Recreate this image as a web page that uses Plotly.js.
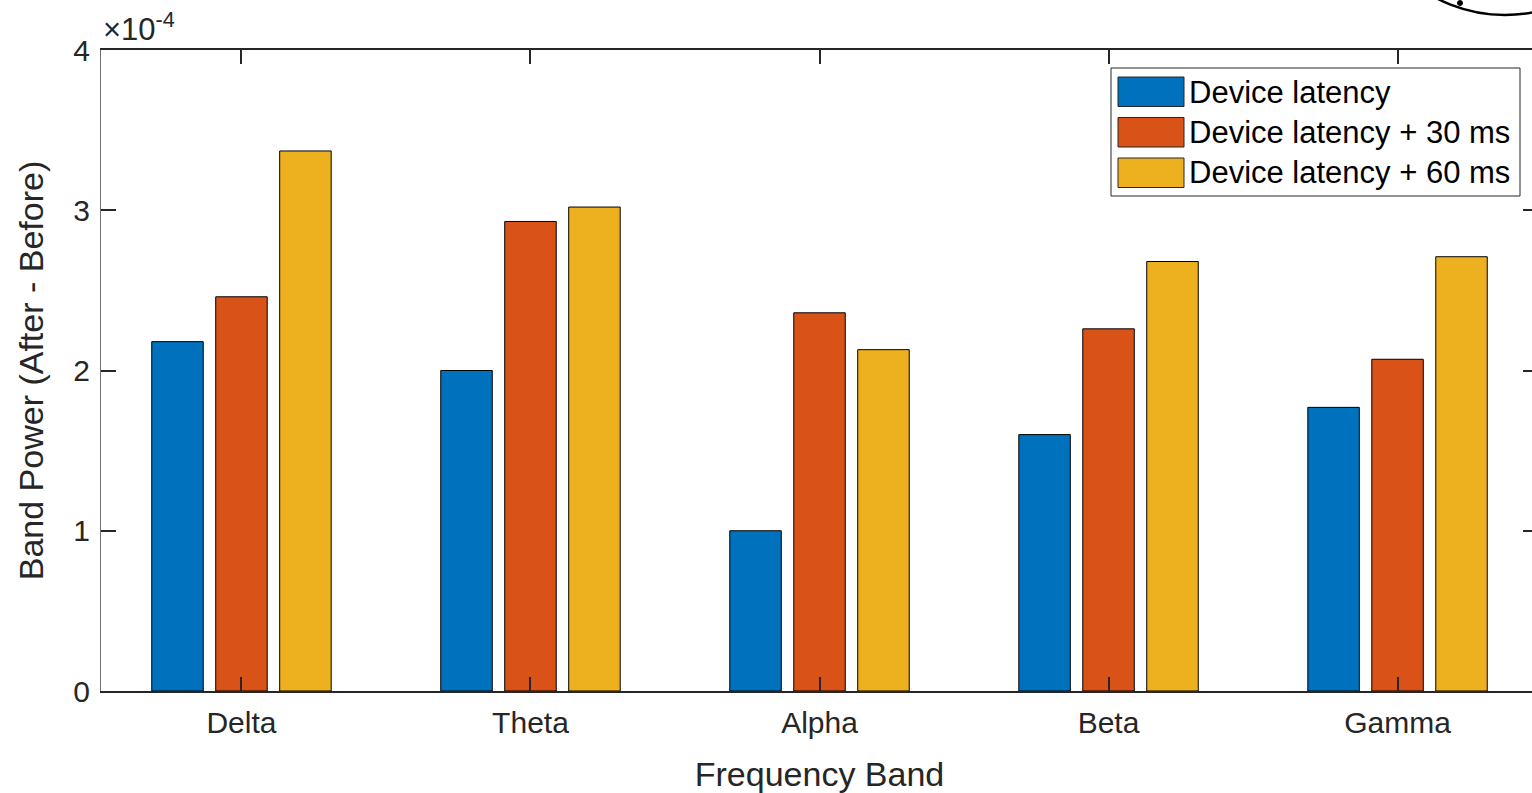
<!DOCTYPE html>
<html>
<head>
<meta charset="utf-8">
<script src="https://cdn.plot.ly/plotly-3.0.1.min.js"></script>
<style>
html,body{margin:0;padding:0;overflow:hidden;background:#fff;}
#chart{width:1545px;height:793px;}
</style>
</head>
<body>
<div id="chart"></div>
<script>
// Frequency bands (x categories)
const bands = ['Delta', 'Theta', 'Alpha', 'Beta', 'Gamma'];
// Series names
const seriesNames = ['Device latency', 'Device latency + 30 ms', 'Device latency + 60 ms'];
// Band power (After - Before), in units of 1e-4
const deviceLatency   = [2.18, 2.00, 1.00, 1.60, 1.77];
const latencyPlus30   = [2.46, 2.93, 2.36, 2.26, 2.07];
const latencyPlus60   = [3.37, 3.02, 2.13, 2.68, 2.71];
const yTicks = [0, 1, 2, 3, 4];
const exponentLabel = '×10<sup>-4</sup>';

const colors = ['#0072BD', '#D95319', '#EDB120'];
const seriesValues = [deviceLatency, latencyPlus30, latencyPlus60];

const W = 1545, H = 793;
const mL = 101, mR = 7, mT = 50, mB = 102;
const pw = W - mL - mR, ph = H - mT - mB;
const px = x => (x - mL) / pw;
const py = y => (H - mB - y) / ph;

const font = 'Liberation Sans, Arial, Helvetica, sans-serif';

const traces = seriesValues.map((vals, i) => ({
  type: 'bar',
  x: bands,
  y: vals,
  name: seriesNames[i],
  marker: {color: colors[i], line: {color: '#000000', width: 1}},
  showlegend: false,
  hoverinfo: 'x+y+name'
}));

// custom legend (MATLAB-style large swatches)
const shapes = [];
const annotations = [];
shapes.push({type: 'rect', xref: 'paper', yref: 'paper',
  x0: px(1111), x1: px(1520), y0: py(196), y1: py(68),
  line: {color: '#262626', width: 1}, fillcolor: '#ffffff', layer: 'above'});
const rowTop = [77, 117.5, 158];
seriesNames.forEach((nm, i) => {
  shapes.push({type: 'rect', xref: 'paper', yref: 'paper',
    x0: px(1118), x1: px(1184), y0: py(rowTop[i] + 29.5), y1: py(rowTop[i]),
    line: {color: '#262626', width: 1}, fillcolor: colors[i], layer: 'above'});
  annotations.push({xref: 'paper', yref: 'paper', x: px(1187), y: py(rowTop[i] + 15),
    xanchor: 'left', yanchor: 'middle', showarrow: false, text: nm,
    font: {family: font, size: 31, color: '#000000'}});
});

// exponent label
annotations.push({xref: 'paper', yref: 'paper', x: px(101), y: py(49),
  xanchor: 'left', yanchor: 'bottom', showarrow: false, text: exponentLabel,
  font: {family: font, size: 31, color: '#262626'}});

// partially visible decoration at the top right corner
shapes.push({type: 'circle', xref: 'paper', yref: 'paper',
  x0: px(1357), x1: px(1653), y0: py(15), y1: py(-281),
  line: {color: '#000000', width: 2.5}, fillcolor: 'rgba(0,0,0,0)', layer: 'above'});
shapes.push({type: 'circle', xref: 'paper', yref: 'paper',
  x0: px(1457.5), x1: px(1462.5), y0: py(5.5), y1: py(0.5),
  line: {color: '#000000', width: 1}, fillcolor: '#000000', layer: 'above'});

const layout = {
  width: W, height: H,
  margin: {l: mL, r: mR, t: mT, b: mB, pad: 0},
  paper_bgcolor: '#ffffff', plot_bgcolor: '#ffffff',
  barmode: 'group', bargap: 0.336, bargroupgap: 0.195,
  font: {family: font, color: '#262626', size: 30},
  xaxis: {
    type: 'category', range: [-0.486, 4.486],
    showline: true, linecolor: '#262626', linewidth: 2, mirror: 'ticks',
    ticks: 'inside', ticklen: 14, tickwidth: 2, tickcolor: '#262626',
    showgrid: false, zeroline: false,
    tickfont: {family: font, size: 30, color: '#262626'},
    ticklabelstandoff: 4,
    title: {text: 'Frequency Band', font: {family: font, size: 34, color: '#262626'}, standoff: 25}
  },
  yaxis: {
    range: [0, 4], tickvals: yTicks, ticktext: yTicks.map(String),
    showline: true, linecolor: '#707070', linewidth: 1, mirror: 'ticks',
    ticks: 'inside', ticklen: 15, tickwidth: 2, tickcolor: '#262626',
    showgrid: false, zeroline: false,
    tickfont: {family: font, size: 30, color: '#262626'},
    ticklabelstandoff: 4,
    title: {text: 'Band Power (After - Before)', font: {family: font, size: 34, color: '#262626'}, standoff: 19}
  },
  shapes: shapes,
  annotations: annotations
};

Plotly.newPlot('chart', traces, layout, {displayModeBar: false, staticPlot: true});
</script>
</body>
</html>
